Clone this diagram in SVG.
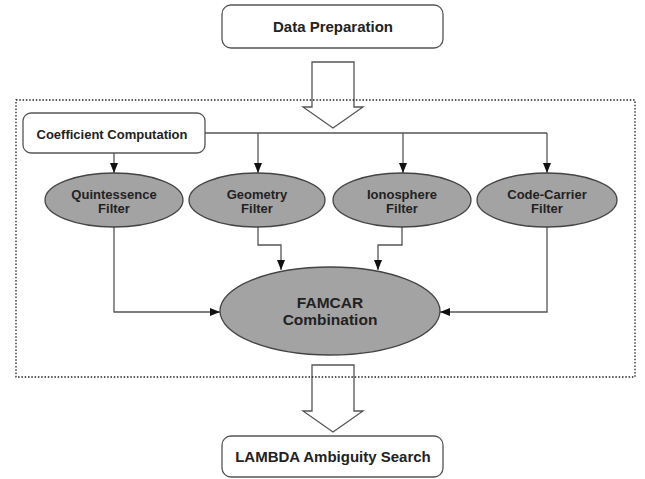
<svg xmlns="http://www.w3.org/2000/svg" width="645" height="479" viewBox="0 0 645 479">
<defs>
<marker id="ah" markerWidth="10" markerHeight="8" refX="10" refY="4" orient="auto" markerUnits="userSpaceOnUse">
<path d="M0,0 L10,4 L0,8 Z" fill="#111"/>
</marker>
<style>
.box{fill:#fff;stroke:#555;stroke-width:1.3}
.ell{fill:#a3a3a3;stroke:#444;stroke-width:1.3}
.t{font-family:"Liberation Sans",Arial,sans-serif;font-weight:bold;fill:#222;text-anchor:middle}
.c{fill:none;stroke:#555;stroke-width:1.3}
.blk{fill:#fff;stroke:#555;stroke-width:1.3}
</style>
</defs>
<rect width="645" height="479" fill="#fff"/>
<g id="data-prep">
<rect class="box" x="222" y="5" width="221" height="43" rx="9"/>
<text class="t" x="333" y="32" font-size="15">Data Preparation</text>
</g>
<g id="block-arrows">
<path class="blk" d="M312,62 L354,62 L354,107 L363,107 L333,128 L303,107 L312,107 Z"/>
<path class="blk" d="M312,365 L354,365 L354,411 L363,411 L333,432 L303,411 L312,411 Z"/>
</g>
<rect id="frame" x="16" y="100" width="619" height="277" fill="none" stroke="#222" stroke-width="1.3" stroke-dasharray="1.5,1.8"/>
<g id="coef">
<rect class="box" x="23" y="113" width="182" height="40" rx="8"/>
<text class="t" x="112" y="139" font-size="13">Coefficient Computation</text>
</g>
<g id="connectors">
<path class="c" d="M205,133 L547,133"/>
<path class="c" d="M114,153 L114,173" marker-end="url(#ah)"/>
<path class="c" d="M258,133 L258,173" marker-end="url(#ah)"/>
<path class="c" d="M403,133 L403,173" marker-end="url(#ah)"/>
<path class="c" d="M547,133 L547,173" marker-end="url(#ah)"/>
<path class="c" d="M114,227 L114,312 L220,312" marker-end="url(#ah)"/>
<path class="c" d="M547,227 L547,312 L440,312" marker-end="url(#ah)"/>
<path class="c" d="M258,227 L258,245 L281,245 L281,270" marker-end="url(#ah)"/>
<path class="c" d="M402,227 L402,245 L378,245 L378,270" marker-end="url(#ah)"/>
</g>
<g id="quintessence">
<ellipse class="ell" cx="114" cy="200" rx="69" ry="27"/>
<text class="t" x="114" y="199" font-size="13">Quintessence</text>
<text class="t" x="114" y="213" font-size="13">Filter</text>
</g>
<g id="geometry">
<ellipse class="ell" cx="257" cy="200" rx="68" ry="27"/>
<text class="t" x="257" y="199" font-size="13">Geometry</text>
<text class="t" x="257" y="213" font-size="13">Filter</text>
</g>
<g id="ionosphere">
<ellipse class="ell" cx="402" cy="200" rx="69" ry="27"/>
<text class="t" x="402" y="199" font-size="13">Ionosphere</text>
<text class="t" x="402" y="213" font-size="13">Filter</text>
</g>
<g id="code-carrier">
<ellipse class="ell" cx="547" cy="200" rx="70" ry="27"/>
<text class="t" x="547" y="199" font-size="13">Code-Carrier</text>
<text class="t" x="547" y="213" font-size="13">Filter</text>
</g>
<g id="famcar">
<ellipse class="ell" cx="330" cy="311" rx="110" ry="44"/>
<text class="t" x="330" y="308" font-size="15.5">FAMCAR</text>
<text class="t" x="330" y="325" font-size="15.5">Combination</text>
</g>
<g id="lambda">
<rect class="box" x="222" y="436" width="221" height="41" rx="9"/>
<text class="t" x="333" y="462" font-size="15">LAMBDA Ambiguity Search</text>
</g>
</svg>
